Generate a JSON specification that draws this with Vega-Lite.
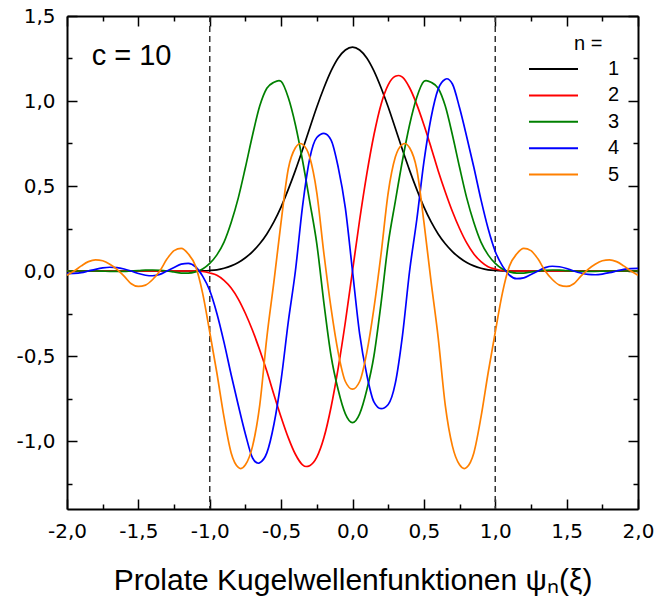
{
  "$schema": "https://vega.github.io/schema/vega-lite/v6.json",
  "width": 571,
  "height": 493,
  "autosize": {"type": "none"},
  "padding": {"left": 67, "top": 16, "right": 26, "bottom": 93},
  "background": "white",
  "config": {
    "view": {"stroke": null},
    "font": "Liberation Sans",
    "axis": {
      "domainColor": "black",
      "domainWidth": 2,
      "tickColor": "black",
      "tickWidth": 1.5,
      "grid": false,
      "labelFont": "DejaVu Sans",
      "labelFontSize": 20,
      "labelColor": "black",
      "labelOverlap": false,
      "labelFlush": false,
      "titleFont": "Liberation Sans",
      "titleFontWeight": "normal",
      "titleColor": "black"
    }
  },
  "layer": [
    {
      "data": {"values": [{"xv": -1}, {"xv": 1}]},
      "mark": {"type": "rule", "color": "#333333", "strokeWidth": 1.5, "strokeDash": [6, 4]},
      "encoding": {
        "x": {"field": "xv", "type": "quantitative", "scale": {"domain": [-2, 2], "nice": false, "zero": false}, "axis": null}
      }
    },
    {
      "data": {
        "values": [
          {"x": -2.0, "1": 0, "2": 0, "3": 0, "4": -0.015, "5": -0.025},
          {"x": -1.95, "1": 0, "2": 0, "3": 0, "4": -0.014, "5": 0},
          {"x": -1.9, "1": 0, "2": 0, "3": 0, "4": -0.01, "5": 0.03},
          {"x": -1.85, "1": 0, "2": 0, "3": 0, "4": 0, "5": 0.055},
          {"x": -1.8, "1": 0, "2": 0, "3": 0, "4": 0.01, "5": 0.066},
          {"x": -1.75, "1": 0, "2": 0, "3": -0.001, "4": 0.018, "5": 0.06},
          {"x": -1.7, "1": 0, "2": 0, "3": -0.002, "4": 0.022, "5": 0.04},
          {"x": -1.65, "1": 0, "2": 0, "3": -0.002, "4": 0.02, "5": 0.01},
          {"x": -1.6, "1": 0, "2": 0, "3": -0.002, "4": 0.012, "5": -0.03},
          {"x": -1.55, "1": 0, "2": 0, "3": 0, "4": 0, "5": -0.075},
          {"x": -1.5, "1": 0, "2": 0, "3": 0.002, "4": -0.015, "5": -0.091},
          {"x": -1.45, "1": 0, "2": 0, "3": 0.005, "4": -0.025, "5": -0.083},
          {"x": -1.4, "1": 0, "2": 0, "3": 0.006, "4": -0.028, "5": -0.05},
          {"x": -1.35, "1": 0, "2": 0, "3": 0.004, "4": -0.02, "5": 0},
          {"x": -1.3, "1": 0, "2": 0, "3": 0, "4": 0, "5": 0.07},
          {"x": -1.25, "1": 0, "2": 0, "3": -0.006, "4": 0.02, "5": 0.12},
          {"x": -1.2, "1": 0, "2": 0, "3": -0.012, "4": 0.04, "5": 0.133},
          {"x": -1.15, "1": 0, "2": 0, "3": -0.012, "4": 0.045, "5": 0.1},
          {"x": -1.1, "1": 0, "2": 0, "3": -0.005, "4": 0.025, "5": 0.03},
          {"x": -1.05, "1": 0.001, "2": -0.003, "3": 0.012, "4": -0.03, "5": -0.13},
          {"x": -1.0, "1": 0.003, "2": -0.012, "3": 0.045, "4": -0.115, "5": -0.36},
          {"x": -0.95, "1": 0.007, "2": -0.025, "3": 0.095, "4": -0.25, "5": -0.6},
          {"x": -0.9, "1": 0.016, "2": -0.055, "3": 0.17, "4": -0.42, "5": -0.86},
          {"x": -0.85, "1": 0.03, "2": -0.1, "3": 0.285, "4": -0.61, "5": -1.07},
          {"x": -0.8, "1": 0.05, "2": -0.165, "3": 0.43, "4": -0.79, "5": -1.155},
          {"x": -0.783, "5": -1.162},
          {"x": -0.75, "1": 0.078, "2": -0.25, "3": 0.61, "4": -0.96, "5": -1.14},
          {"x": -0.7, "1": 0.114, "2": -0.35, "3": 0.8, "4": -1.1, "5": -1.03},
          {"x": -0.66, "4": -1.131},
          {"x": -0.65, "1": 0.16, "2": -0.465, "3": 0.97, "4": -1.128, "5": -0.79},
          {"x": -0.6, "1": 0.218, "2": -0.59, "3": 1.075, "4": -1.07, "5": -0.39},
          {"x": -0.55, "1": 0.29, "2": -0.728, "3": 1.11, "4": -0.9, "5": -0.06},
          {"x": -0.515, "3": 1.12},
          {"x": -0.5, "1": 0.377, "2": -0.86, "3": 1.115, "4": -0.64, "5": 0.29},
          {"x": -0.45, "1": 0.48, "2": -0.98, "3": 1.02, "4": -0.3, "5": 0.6},
          {"x": -0.4, "1": 0.592, "2": -1.078, "3": 0.86, "4": 0, "5": 0.725},
          {"x": -0.365, "5": 0.75},
          {"x": -0.35, "1": 0.713, "2": -1.14, "3": 0.65, "4": 0.38, "5": 0.745},
          {"x": -0.325, "2": -1.15},
          {"x": -0.3, "1": 0.84, "2": -1.145, "3": 0.41, "4": 0.66, "5": 0.67},
          {"x": -0.25, "1": 0.965, "2": -1.095, "3": 0.16, "4": 0.785, "5": 0.46},
          {"x": -0.2, "1": 1.078, "2": -0.98, "3": -0.19, "4": 0.81, "5": 0.1},
          {"x": -0.15, "1": 1.177, "2": -0.8, "3": -0.5, "4": 0.77, "5": -0.22},
          {"x": -0.1, "1": 1.253, "2": -0.57, "3": -0.7, "4": 0.61, "5": -0.48},
          {"x": -0.05, "1": 1.3, "2": -0.3, "3": -0.84, "4": 0.37, "5": -0.65},
          {"x": 0.0, "1": 1.317, "2": 0, "3": -0.892, "4": 0, "5": -0.695},
          {"x": 0.05, "1": 1.3, "2": 0.3, "3": -0.84, "4": -0.37, "5": -0.65},
          {"x": 0.1, "1": 1.253, "2": 0.57, "3": -0.7, "4": -0.61, "5": -0.48},
          {"x": 0.15, "1": 1.177, "2": 0.8, "3": -0.5, "4": -0.77, "5": -0.22},
          {"x": 0.2, "1": 1.078, "2": 0.98, "3": -0.19, "4": -0.81, "5": 0.1},
          {"x": 0.25, "1": 0.965, "2": 1.095, "3": 0.16, "4": -0.785, "5": 0.46},
          {"x": 0.3, "1": 0.84, "2": 1.145, "3": 0.41, "4": -0.66, "5": 0.67},
          {"x": 0.325, "2": 1.15},
          {"x": 0.35, "1": 0.713, "2": 1.14, "3": 0.65, "4": -0.38, "5": 0.745},
          {"x": 0.365, "5": 0.75},
          {"x": 0.4, "1": 0.592, "2": 1.078, "3": 0.86, "4": 0, "5": 0.725},
          {"x": 0.45, "1": 0.48, "2": 0.98, "3": 1.02, "4": 0.3, "5": 0.6},
          {"x": 0.5, "1": 0.377, "2": 0.86, "3": 1.115, "4": 0.64, "5": 0.29},
          {"x": 0.515, "3": 1.12},
          {"x": 0.55, "1": 0.29, "2": 0.728, "3": 1.11, "4": 0.9, "5": -0.06},
          {"x": 0.6, "1": 0.218, "2": 0.59, "3": 1.075, "4": 1.07, "5": -0.39},
          {"x": 0.65, "1": 0.16, "2": 0.465, "3": 0.97, "4": 1.128, "5": -0.79},
          {"x": 0.66, "4": 1.131},
          {"x": 0.7, "1": 0.114, "2": 0.35, "3": 0.8, "4": 1.1, "5": -1.03},
          {"x": 0.75, "1": 0.078, "2": 0.25, "3": 0.61, "4": 0.96, "5": -1.14},
          {"x": 0.783, "5": -1.162},
          {"x": 0.8, "1": 0.05, "2": 0.165, "3": 0.43, "4": 0.79, "5": -1.155},
          {"x": 0.85, "1": 0.03, "2": 0.1, "3": 0.285, "4": 0.61, "5": -1.07},
          {"x": 0.9, "1": 0.016, "2": 0.055, "3": 0.17, "4": 0.42, "5": -0.86},
          {"x": 0.95, "1": 0.007, "2": 0.025, "3": 0.095, "4": 0.25, "5": -0.6},
          {"x": 1.0, "1": 0.003, "2": 0.012, "3": 0.045, "4": 0.115, "5": -0.36},
          {"x": 1.05, "1": 0.001, "2": 0.003, "3": 0.012, "4": 0.03, "5": -0.13},
          {"x": 1.1, "1": 0, "2": 0, "3": -0.005, "4": -0.025, "5": 0.03},
          {"x": 1.15, "1": 0, "2": 0, "3": -0.012, "4": -0.045, "5": 0.1},
          {"x": 1.2, "1": 0, "2": 0, "3": -0.012, "4": -0.04, "5": 0.133},
          {"x": 1.25, "1": 0, "2": 0, "3": -0.006, "4": -0.02, "5": 0.12},
          {"x": 1.3, "1": 0, "2": 0, "3": 0, "4": 0, "5": 0.07},
          {"x": 1.35, "1": 0, "2": 0, "3": 0.004, "4": 0.02, "5": 0},
          {"x": 1.4, "1": 0, "2": 0, "3": 0.006, "4": 0.028, "5": -0.05},
          {"x": 1.45, "1": 0, "2": 0, "3": 0.005, "4": 0.025, "5": -0.083},
          {"x": 1.5, "1": 0, "2": 0, "3": 0.002, "4": 0.015, "5": -0.091},
          {"x": 1.55, "1": 0, "2": 0, "3": 0, "4": 0, "5": -0.075},
          {"x": 1.6, "1": 0, "2": 0, "3": -0.002, "4": -0.012, "5": -0.03},
          {"x": 1.65, "1": 0, "2": 0, "3": -0.002, "4": -0.02, "5": 0.01},
          {"x": 1.7, "1": 0, "2": 0, "3": -0.002, "4": -0.022, "5": 0.04},
          {"x": 1.75, "1": 0, "2": 0, "3": -0.001, "4": -0.018, "5": 0.06},
          {"x": 1.8, "1": 0, "2": 0, "3": 0, "4": -0.01, "5": 0.066},
          {"x": 1.85, "1": 0, "2": 0, "3": 0, "4": 0, "5": 0.055},
          {"x": 1.9, "1": 0, "2": 0, "3": 0, "4": 0.01, "5": 0.03},
          {"x": 1.95, "1": 0, "2": 0, "3": 0, "4": 0.014, "5": 0},
          {"x": 2.0, "1": 0, "2": 0, "3": 0, "4": 0.015, "5": -0.025}
        ]
      },
      "transform": [
        {"fold": ["1", "2", "3", "4", "5"], "as": ["n", "y"]},
        {"filter": "isValid(datum.y)"}
      ],
      "mark": {"type": "line", "interpolate": "monotone", "strokeWidth": 1.7, "clip": true},
      "encoding": {
        "x": {
          "field": "x", "type": "quantitative",
          "scale": {"domain": [-2, 2], "nice": false, "zero": false},
          "axis": {
            "orient": "bottom",
            "values": [-2, -1.75, -1.5, -1.25, -1, -0.75, -0.5, -0.25, 0, 0.25, 0.5, 0.75, 1, 1.25, 1.5, 1.75, 2],
            "tickSize": {"condition": {"test": "abs(datum.value*2 - round(datum.value*2)) > 0.01", "value": -5}, "value": -10},
            "labelExpr": "abs(datum.value*2 - round(datum.value*2)) > 0.01 ? '' : replace(replace(format(datum.value, '.1f'), '.', ','), '\u2212', '-')",
            "labelPadding": 22.5,
            "title": "Prolate Kugelwellenfunktionen ψₙ(ξ)",
            "titleFontSize": 30,
            "titlePadding": 19
          }
        },
        "y": {
          "field": "y", "type": "quantitative",
          "scale": {"domain": [-1.4, 1.5], "nice": false, "zero": false},
          "axis": {
            "orient": "left",
            "values": [-1.25, -1, -0.75, -0.5, -0.25, 0, 0.25, 0.5, 0.75, 1, 1.25, 1.5],
            "tickSize": {"condition": {"test": "abs(datum.value*2 - round(datum.value*2)) > 0.01", "value": -5}, "value": -10},
            "labelExpr": "abs(datum.value*2 - round(datum.value*2)) > 0.01 ? '' : replace(replace(format(datum.value, '.1f'), '.', ','), '\u2212', '-')",
            "labelPadding": 22,
            "title": null
          }
        },
        "color": {
          "field": "n", "type": "nominal",
          "scale": {"domain": ["1", "2", "3", "4", "5"], "range": ["#000000", "#ff0000", "#008000", "#0000ff", "#ff8000"]},
          "legend": {
            "orient": "none",
            "legendX": 461,
            "legendY": 18,
            "title": "n =\u00a0\u00a0\u00a0\u200b",
            "titleFontSize": 20,
            "titleFont": "Liberation Sans",
            "titleFontWeight": "normal",
            "titleColor": "black",
            "titleAnchor": "end",
            "titlePadding": 5,
            "symbolType": "stroke",
            "symbolSize": 2401,
            "symbolStrokeWidth": 2,
            "clipHeight": 20,
            "labelFontSize": 20,
            "labelFont": "Liberation Sans",
            "labelColor": "black",
            "labelOffset": 29,
            "rowPadding": 6.4,
            "padding": 0
          }
        }
      }
    },
    {
      "data": {"values": [{"tx": -1.827, "ty": 1.21, "label": "c = 10"}]},
      "mark": {"type": "text", "align": "left", "baseline": "alphabetic", "fontSize": 29, "font": "Liberation Sans", "color": "black"},
      "encoding": {
        "x": {
          "field": "tx", "type": "quantitative",
          "scale": {"domain": [-2, 2], "nice": false, "zero": false},
          "axis": {
            "orient": "top",
            "values": [-2, -1.75, -1.5, -1.25, -1, -0.75, -0.5, -0.25, 0, 0.25, 0.5, 0.75, 1, 1.25, 1.5, 1.75, 2],
            "tickSize": {"condition": {"test": "abs(datum.value*2 - round(datum.value*2)) > 0.01", "value": -5}, "value": -10},
            "labels": false,
            "title": null
          }
        },
        "y": {
          "field": "ty", "type": "quantitative",
          "scale": {"domain": [-1.4, 1.5], "nice": false, "zero": false},
          "axis": {
            "orient": "right",
            "values": [-1.25, -1, -0.75, -0.5, -0.25, 0, 0.25, 0.5, 0.75, 1, 1.25, 1.5],
            "tickSize": {"condition": {"test": "abs(datum.value*2 - round(datum.value*2)) > 0.01", "value": -5}, "value": -10},
            "labels": false,
            "title": null
          }
        },
        "text": {"field": "label"}
      }
    }
  ],
  "resolve": {"axis": {"x": "independent", "y": "independent"}}
}
